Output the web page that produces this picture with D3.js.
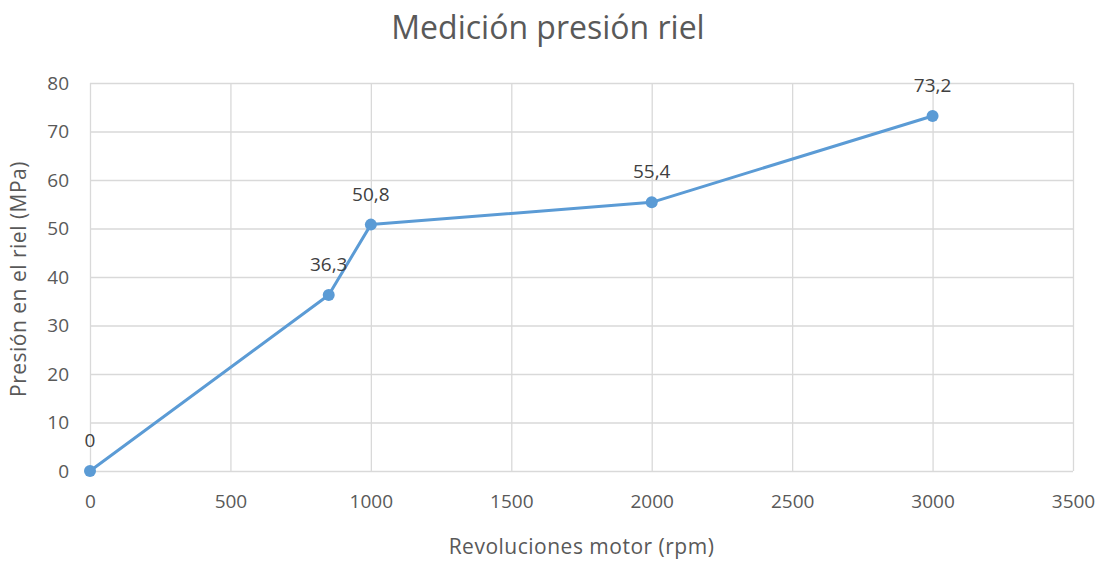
<!DOCTYPE html>
<html>
<head>
<meta charset="utf-8">
<script src="https://cdn.jsdelivr.net/npm/d3@7"></script>
<style>
  body { margin: 0; background: #fff; }
  svg text { font-family: "Open Sans", "Noto Sans", sans-serif; fill: #595959; }
</style>
</head>
<body>
<svg></svg>
<script>
const rpm      = [0, 850, 1000, 2000, 3000];
const presion  = [0, 36.3, 50.8, 55.4, 73.2];
const xTicks   = [0, 500, 1000, 1500, 2000, 2500, 3000, 3500];
const yTicks   = [0, 10, 20, 30, 40, 50, 60, 70, 80];

const svg = d3.select("svg").attr("width", 1102).attr("height", 561);

const margin = {top: 83, right: 29, bottom: 90, left: 90},
  width  = 1102 - margin.left - margin.right,
  height = 561 - margin.top - margin.bottom,
  lineColor = "#5b9bd5",
  gridColor = "#d9d9d9",
  fmt = d => d3.format(".1f")(d).replace(".", ",").replace(",0", "");

const scaleX = d3.scaleLinear().domain([0, 3500]).range([0, width]);
const scaleY = d3.scaleLinear().domain([0, 80]).range([height, 0]);

const g = svg.append("g")
  .attr("transform", `translate(${margin.left},${margin.top})`);

// Grid
g.append("g")
  .call(d3.axisLeft(scaleY).tickValues(yTicks).tickSize(-width).tickFormat(""))
  .call(a => a.select(".domain").remove())
  .call(a => a.selectAll("line").attr("stroke", gridColor).attr("stroke-width", 1.3));

g.append("g")
  .attr("transform", `translate(0,${height})`)
  .call(d3.axisBottom(scaleX).tickValues(xTicks).tickSize(-height).tickFormat(""))
  .call(a => a.select(".domain").remove())
  .call(a => a.selectAll("line").attr("stroke", gridColor).attr("stroke-width", 1.3));

// Tick labels
g.append("g")
  .attr("transform", `translate(0,${height})`)
  .call(d3.axisBottom(scaleX).tickValues(xTicks).tickSize(0).tickPadding(24).tickFormat(d3.format("d")))
  .call(a => a.select(".domain").remove())
  .call(a => a.selectAll("text").attr("font-size", 19).style("fill", "#595959"));

g.append("g")
  .call(d3.axisLeft(scaleY).tickValues(yTicks).tickSize(0).tickPadding(21))
  .call(a => a.select(".domain").remove())
  .call(a => a.selectAll("text").attr("font-size", 19).style("fill", "#595959"));

// Line
const pts = rpm.map((r, i) => ({x: r, y: presion[i]}));

g.append("path")
  .datum(pts)
  .attr("fill", "none")
  .attr("stroke", lineColor)
  .attr("stroke-width", 3)
  .attr("stroke-linejoin", "round")
  .attr("d", d3.line().x(d => scaleX(d.x)).y(d => scaleY(d.y)));

g.selectAll(".dot")
  .data(pts)
  .enter().append("circle")
  .attr("class", "dot")
  .attr("cx", d => scaleX(d.x))
  .attr("cy", d => scaleY(d.y))
  .attr("r", 6)
  .attr("fill", lineColor);

g.selectAll(".lbl")
  .data(pts)
  .enter().append("text")
  .attr("class", "lbl")
  .attr("x", d => scaleX(d.x))
  .attr("y", d => scaleY(d.y) - 24)
  .attr("text-anchor", "middle")
  .attr("font-size", 19)
  .style("fill", "#404040")
  .text(d => fmt(d.y));

// Titles
svg.append("text")
  .attr("x", 548)
  .attr("y", 39)
  .attr("text-anchor", "middle")
  .attr("font-size", 32)
  .text("Medición presión riel");

svg.append("text")
  .attr("x", margin.left + width / 2)
  .attr("y", 554)
  .attr("text-anchor", "middle")
  .attr("font-size", 21)
  .attr("letter-spacing", 0.5)
  .text("Revoluciones motor (rpm)");

svg.append("text")
  .attr("transform", `translate(26, ${margin.top + height / 2 + 2}) rotate(-90)`)
  .attr("text-anchor", "middle")
  .attr("font-size", 21)
  .attr("letter-spacing", 0.5)
  .text("Presión en el riel (MPa)");
</script>
</body>
</html>
